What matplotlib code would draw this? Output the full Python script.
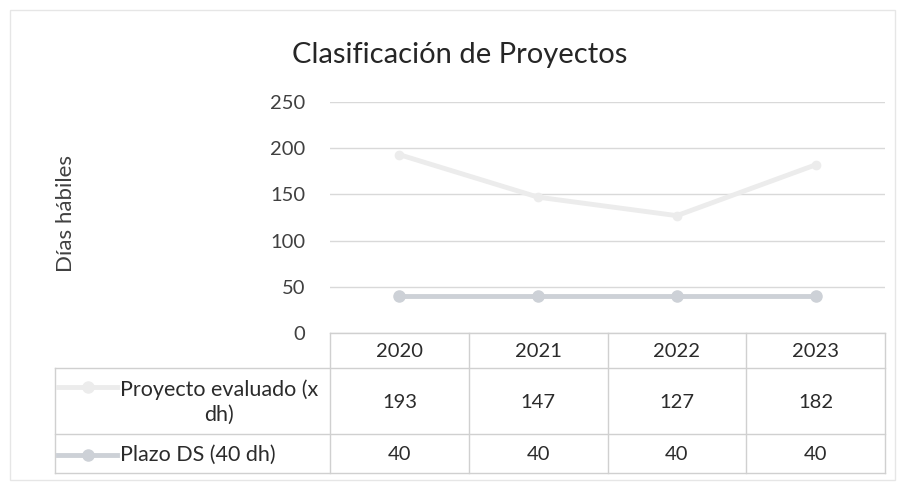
import matplotlib.pyplot as plt
from matplotlib.patches import Rectangle

plt.rcParams['font.family'] = ['Lato', 'DejaVu Sans']

years = ['2020', '2021', '2022', '2023']
evaluado = [193, 147, 127, 182]
plazo = [40, 40, 40, 40]
series_names = ['Proyecto evaluado (x\ndh)', 'Plazo DS (40 dh)']

W, H = 901, 483
fig = plt.figure(figsize=(W / 100, H / 100), dpi=100)

def px(x0, y0, x1, y1):
    # pixel box -> figure fraction
    return [x0 / W, 1 - y1 / H, (x1 - x0) / W, (y1 - y0) / H]

# outer chart border
fig.add_artist(Rectangle((10 / W, 3 / H), 885 / W, 470 / H, transform=fig.transFigure,
                         fill=False, ec='#e6e6e6', lw=1))

ax = fig.add_axes(px(330, 102, 885, 333))
x = list(range(len(years)))
c_eval = '#ececec'
c_plazo = '#cdd1d7'
ax.plot(x, evaluado, color=c_eval, lw=3.5, marker='o', ms=6, mfc=c_eval, mec=c_eval, zorder=3)
ax.plot(x, plazo, color=c_plazo, lw=3.5, marker='o', ms=8, mfc=c_plazo, mec=c_plazo, zorder=3)
ax.set_xlim(-0.5, 3.5)
ax.set_ylim(0, 250)
ax.set_yticks([0, 50, 100, 150, 200, 250])
ax.set_xticks([])
ax.grid(axis='y', color='#d9d9d9', lw=1)
ax.set_axisbelow(True)
for s in ax.spines.values():
    s.set_visible(False)
ax.tick_params(axis='y', length=0, pad=18, labelsize=14.5, labelcolor='#404040')

fig.text(460 / W, 1 - 55 / H, 'Clasificación de Proyectos', ha='center', va='center',
         fontsize=21, color='#262626')
fig.text(66 / W, 1 - 214 / H, 'Días hábiles', ha='center', va='center', rotation=90,
         fontsize=16, color='#404040')

# data table below the axis
tax = fig.add_axes(px(55, 333, 885, 475))
left = -0.5 - 275 / 138.75
tax.set_xlim(left, 3.5)
tax.set_ylim(475, 333)
tax.axis('off')
lc = '#d0d0d0'
rows = [333, 368, 434, 473]
tax.plot([-0.5, 3.5], [333, 333], color=lc, lw=1, clip_on=False)
for y in rows[1:]:
    tax.plot([left, 3.5], [y, y], color=lc, lw=1, clip_on=False)
for xv in [-0.5, 0.5, 1.5, 2.5, 3.5]:
    tax.plot([xv, xv], [333, 473], color=lc, lw=1, clip_on=False)
tax.plot([left, left], [368, 473], color=lc, lw=1, clip_on=False)

tc = '#2b2b2b'
for i, yr in enumerate(years):
    tax.text(i, 352, yr, ha='center', va='center', fontsize=14.5, color=tc)
    tax.text(i, 403, str(evaluado[i]), ha='center', va='center', fontsize=14.5, color=tc)
    tax.text(i, 455, str(plazo[i]), ha='center', va='center', fontsize=14.5, color=tc)

def dx(p):
    return left + (p - 55) / 138.75

for yk, col, name, yt in [(387, c_eval, series_names[0], 402), (455, c_plazo, series_names[1], 455)]:
    tax.plot([dx(58), dx(117)], [yk, yk], color=col, lw=3.5, clip_on=False)
    tax.plot([dx(88)], [yk], marker='o', ms=8, color=col, clip_on=False)
    tax.text(dx(120), yt, name, ha='left', va='center', fontsize=15.5, color=tc,
             multialignment='center', linespacing=1.3)

fig.savefig('out.png', dpi=100, facecolor='white')
